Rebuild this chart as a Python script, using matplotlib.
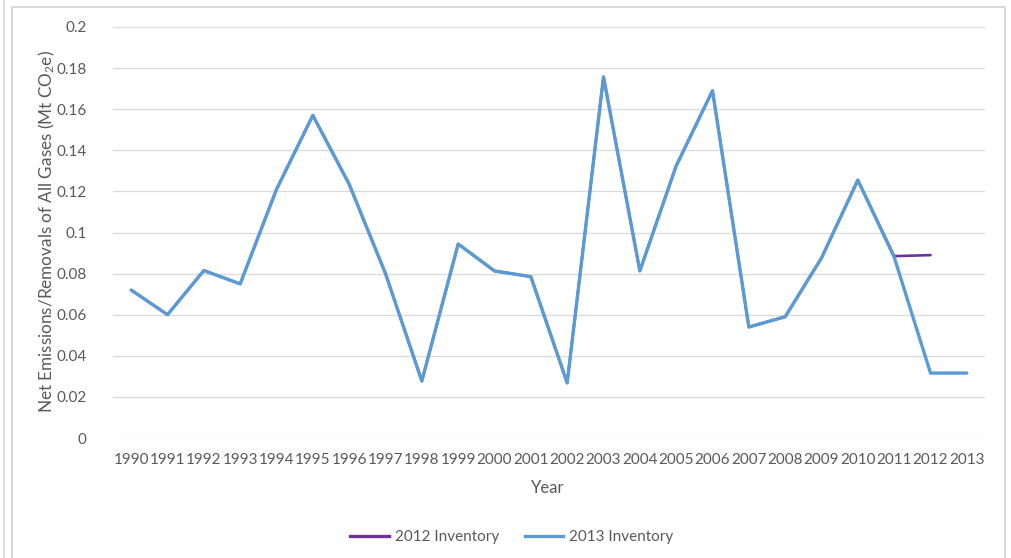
import matplotlib
matplotlib.use("Agg")
import matplotlib.pyplot as plt
from matplotlib.patches import Rectangle
from matplotlib.lines import Line2D

plt.rcParams['font.family'] = ['Lato', 'DejaVu Sans']
plt.rcParams['mathtext.fontset'] = 'custom'
plt.rcParams['mathtext.rm'] = 'Lato'
plt.rcParams['mathtext.it'] = 'Lato:italic'

years = [str(y) for y in range(1990, 2014)]
inv2013 = [0.072, 0.060, 0.0815, 0.075, 0.121, 0.157, 0.1235, 0.080, 0.0277, 0.0944,
           0.0813, 0.0785, 0.0268, 0.1757, 0.0813, 0.1324, 0.169, 0.054, 0.059, 0.0876,
           0.1255, 0.088, 0.0316, 0.0316]
inv2012 = [0.072, 0.060, 0.0815, 0.075, 0.121, 0.157, 0.1235, 0.080, 0.0277, 0.0944,
           0.0813, 0.0785, 0.0268, 0.1757, 0.0813, 0.1324, 0.169, 0.054, 0.059, 0.0876,
           0.1255, 0.0885, 0.089]
yticks = [0, 0.02, 0.04, 0.06, 0.08, 0.1, 0.12, 0.14, 0.16, 0.18, 0.2]
yticklabels = ['0', '0.02', '0.04', '0.06', '0.08', '0.1', '0.12', '0.14', '0.16', '0.18', '0.2']

W, H = 1011, 558
fig = plt.figure(figsize=(W / 100, H / 100), dpi=100)
ax = fig.add_axes([113 / W, 1 - 438 / H, (985 - 113) / W, (438 - 27) / H])

purple = '#7030A0'
blue = '#5B9BD5'
grid = '#D9D9D9'
txt = '#595959'

x12 = list(range(len(inv2012)))
x13 = list(range(len(inv2013)))
ax.plot(x12, inv2012, color=purple, lw=1.9, solid_capstyle='round', solid_joinstyle='round', zorder=3)
ax.plot(x13, inv2013, color=blue, lw=2.4, solid_capstyle='round', solid_joinstyle='round', zorder=4)

ax.set_xlim(-0.5, len(years) - 0.5)
ax.set_ylim(0, 0.2)
ax.set_yticks(yticks)
ax.set_yticklabels(yticklabels)
ax.set_xticks(range(len(years)))
ax.set_xticklabels(years)
ax.grid(axis='y', color=grid, lw=0.9)
ax.set_axisbelow(True)
for s in ax.spines.values():
    s.set_visible(False)
ax.tick_params(length=0, colors=txt, labelsize=11)
ax.tick_params(axis='x', pad=11)
ax.tick_params(axis='y', pad=19)

fig.text(548 / W, 1 - 488 / H, 'Year', ha='center', va='center', color=txt, fontsize=12)
fig.text(47 / W, 1 - 232 / H, r'Net Emissions/Removals of All Gases (Mt CO$_2$e)',
         ha='center', va='center', rotation=90, color=txt, fontsize=12.3)

# legend
handles = [Line2D([], [], color=purple, lw=2.4), Line2D([], [], color=blue, lw=2.4)]
fig.legend(handles, ['2012 Inventory', '2013 Inventory'], loc='center',
           bbox_to_anchor=(512 / W, 1 - 537 / H), ncol=2, frameon=False,
           fontsize=11, labelcolor=txt, handlelength=2.5, columnspacing=1.7, handletextpad=0.4)

# outer frames
fig.patches.append(Rectangle((12 / W, -0.05), (1005 - 12) / W, (1 + 0.05) - 7 / H,
                             transform=fig.transFigure, fill=False, edgecolor=grid, lw=1.5))
fig.add_artist(Line2D([3.5 / W, 3.5 / W], [0, 1], transform=fig.transFigure, color=grid, lw=1.2))

fig.savefig('out.png', dpi=100, facecolor='white')
